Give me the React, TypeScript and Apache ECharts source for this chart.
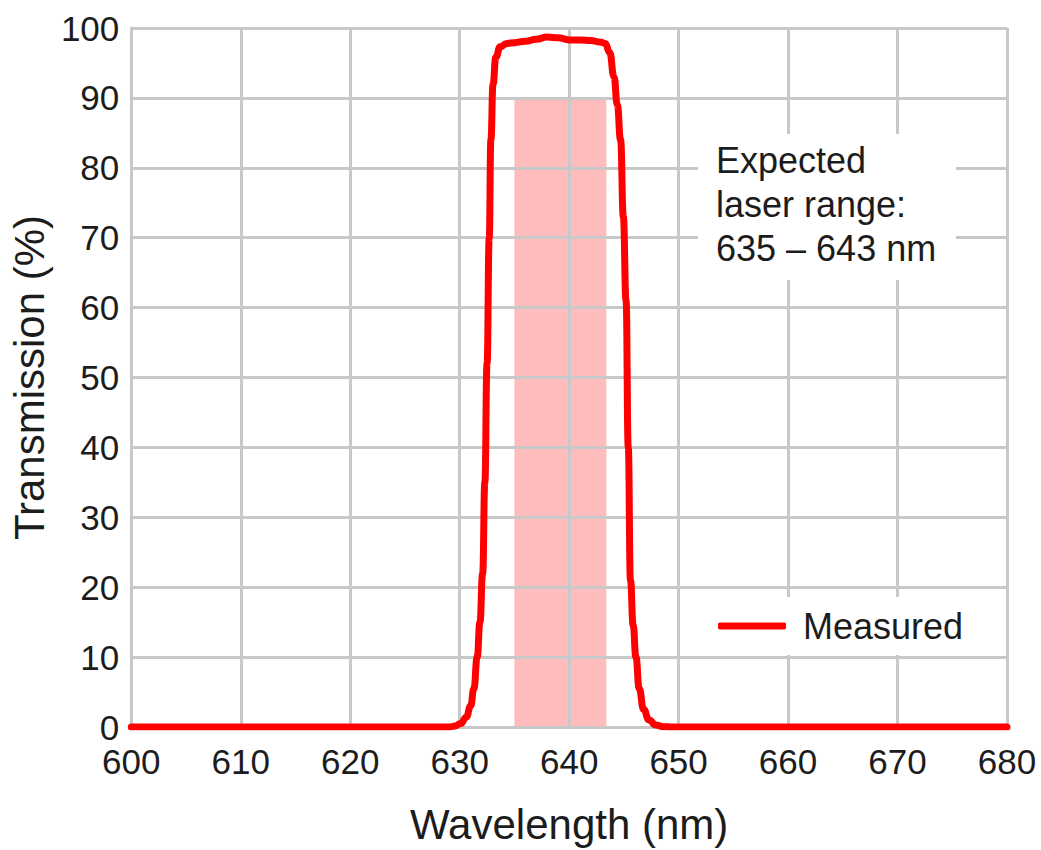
import React, { useEffect, useRef } from "react";
import * as echarts from "echarts";

const wavelength = [600, 629, 629.6, 630.1, 630.6, 631.0, 631.3, 631.6, 631.85, 632.1, 632.3, 632.5, 632.7, 632.85, 633.05, 633.3, 633.7, 634.3, 635, 636, 637, 638, 639, 640, 641, 642, 642.8, 643.3, 643.7, 644.1, 644.4, 644.7, 644.95, 645.2, 645.4, 645.6, 645.85, 646.1, 646.4, 646.8, 647.3, 647.9, 648.6, 649.5, 680];
const transmission = [0, 0, 0.15, 0.5, 1.4, 3, 5.5, 10, 15, 22, 35, 52, 70, 84, 92, 95.8, 97.3, 97.8, 97.9, 98.1, 98.4, 98.7, 98.6, 98.3, 98.3, 98.2, 98.0, 97.8, 96.5, 93, 89, 84, 73, 61, 40, 21, 14.5, 10, 5.5, 2.5, 1, 0.3, 0.05, 0, 0];
const laserRange = [635, 643.4];
const laserTop = 90;
const seriesName = "Measured";
const annotation = ["Expected", "laser range:", "635 – 643 nm"];
const xTitle = "Wavelength (nm)";
const yTitle = "Transmission (%)";

const FONT = "'Liberation Sans', Arial, sans-serif";
const TEXT = "#1c1c1c";
const GRID = "#c8c8c8";

export default function App() {
  const ref = useRef<HTMLDivElement>(null);
  useEffect(() => {
    document.body.style.margin = "0";
    const chart = echarts.init(ref.current!, null, { renderer: "svg" });
    chart.setOption({
      animation: false,
      textStyle: { fontFamily: FONT },
      grid: { left: 130, top: 28, right: 34, bottom: 119, containLabel: false },
      xAxis: {
        type: "value",
        min: 600,
        max: 680,
        interval: 10,
        z: 2,
        name: xTitle,
        nameLocation: "middle",
        nameGap: 76,
        nameTextStyle: { fontSize: 42, color: TEXT, fontFamily: FONT },
        axisLine: { show: true, lineStyle: { color: GRID, width: 3 } },
        axisTick: { show: false },
        axisLabel: { fontSize: 35, lineHeight: 28, color: TEXT, margin: 20, fontFamily: FONT },
        splitLine: { show: true, lineStyle: { color: GRID, width: 3 } },
      },
      yAxis: {
        type: "value",
        min: 0,
        max: 100,
        interval: 10,
        z: 2,
        name: yTitle,
        nameLocation: "middle",
        nameGap: 76,
        nameTextStyle: { fontSize: 42, color: TEXT, fontFamily: FONT },
        axisLine: { show: true, lineStyle: { color: GRID, width: 3 } },
        axisTick: { show: false },
        axisLabel: { fontSize: 35, lineHeight: 28, padding: [0, 0, 6, 0], color: TEXT, margin: 12, fontFamily: FONT },
        splitLine: { show: true, lineStyle: { color: GRID, width: 3 } },
      },
      legend: {
        left: 700,
        top: 597,
        z: 6,
        backgroundColor: "#ffffff",
        padding: [11, 33, 11, 18],
        icon: "roundRect",
        itemWidth: 68,
        itemHeight: 7,
        textStyle: { fontSize: 36, color: TEXT, fontFamily: FONT, padding: [0, 0, 0, 12] },
        data: [seriesName],
      },
      graphic: [
        {
          type: "rect",
          z: 10,
          shape: { x: 698, y: 134, width: 258, height: 146 },
          style: { fill: "#ffffff" },
        },
        {
          type: "text",
          z: 11,
          left: 716,
          top: 138,
          style: {
            text: annotation.join("\n"),
            font: `36px ${FONT}`,
            fill: TEXT,
            lineHeight: 44,
          },
        },
      ],
      series: [
        {
          name: seriesName,
          type: "line",
          z: 4,
          data: wavelength.map((w, i) => [w, transmission[i]]),
          showSymbol: false,
          symbol: "none",
          smooth: 0.5,
          smoothMonotone: "x",
          itemStyle: { color: "#ff0000" },
          lineStyle: { color: "#ff0000", width: 7, cap: "round", join: "round" },
          markArea: {
            silent: true,
            z: 1,
            itemStyle: { color: "#ffbcbc" },
            data: [[{ xAxis: laserRange[0], yAxis: 0 }, { xAxis: laserRange[1], yAxis: laserTop }]],
          },
        },
      ],
    });
    return () => chart.dispose();
  }, []);
  return <div ref={ref} style={{ position: "absolute", left: 0, top: 0, width: 1041, height: 850 }} />;
}
